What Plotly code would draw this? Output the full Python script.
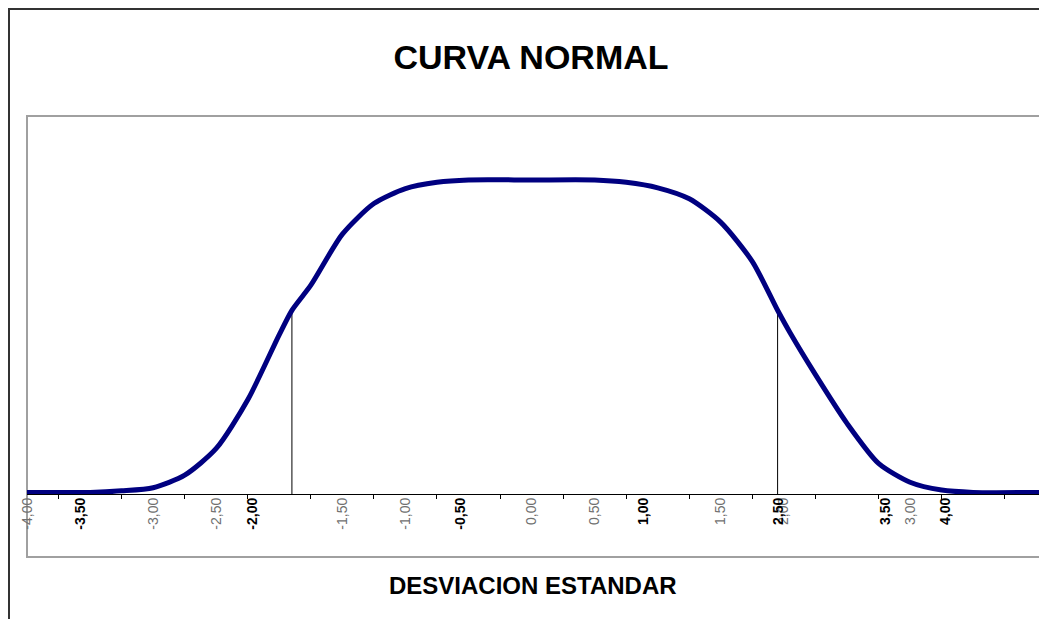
import plotly.graph_objects as go

# Curve values (x in standard deviations, y = density)
curve_x = [-4.0, -3.5, -3.25, -3.0, -2.75, -2.5, -2.25, -2.0, -1.9, -1.75, -1.5, -1.25,
           -1.0, -0.75, -0.5, 0.0, 0.5, 0.75, 1.0, 1.25, 1.5, 1.75, 1.95, 2.05, 2.25,
           2.5, 2.75, 3.0, 3.25, 3.5, 4.03]
curve_y = [0.002, 0.002, 0.004, 0.008, 0.024, 0.058, 0.120, 0.203, 0.234, 0.266, 0.331, 0.370,
           0.389, 0.397, 0.400, 0.400, 0.400, 0.397, 0.390, 0.376, 0.346, 0.296, 0.234, 0.205, 0.152,
           0.090, 0.039, 0.015, 0.005, 0.002, 0.002]

# Vertical reference lines
ref_x = [-1.90, 1.95]
ref_y = [0.234, 0.234]

# Axis ticks (between categories) and labels
tick_marks = [-3.75, -3.25, -2.75, -2.25, -1.75, -1.25, -0.75, -0.25,
              0.25, 0.75, 1.25, 1.75, 2.25, 2.75, 3.25, 3.75]
gray_vals = [-4.0, -3.0, -2.5, -1.5, -1.0, 0.0, 0.5, 1.5, 2.0, 3.0]
gray_text = ["-4,00", "-3,00", "-2,50", "-1,50", "-1,00", "0,00", "0,50", "1,50", "2,00", "3,00"]
bold_vals = [-3.58, -2.216, -0.566, 0.885, 1.956, 2.804, 3.28]
bold_text = ["-3,50", "-2,00", "-0,50", "1,00", "2,50", "3,50", "4,00"]

X_RANGE = [-4.0, 4.03]
Y_RANGE = [0, 0.4815]

fig = go.Figure()

vx, vy = [], []
for a, b in zip(ref_x, ref_y):
    vx += [a, a, None]
    vy += [0, b, None]
fig.add_trace(go.Scatter(x=vx, y=vy, mode="lines", line=dict(color="black", width=1),
                         hoverinfo="skip", showlegend=False))
fig.add_trace(go.Scatter(x=curve_x, y=curve_y, mode="lines",
                         line=dict(color="#000080", width=5, shape="spline", smoothing=0.7),
                         showlegend=False))
fig.add_trace(go.Scatter(x=gray_vals, y=[None]*len(gray_vals), xaxis="x2", mode="markers",
                         marker=dict(opacity=0), showlegend=False, hoverinfo="skip"))
fig.add_trace(go.Scatter(x=bold_vals, y=[None]*len(bold_vals), xaxis="x3", mode="markers",
                         marker=dict(opacity=0), showlegend=False, hoverinfo="skip"))

OFF = 8  # page body margin
FIG_W, FIG_H = 1047 - OFF, 619 - OFF
plot_top, plot_bottom, plot_left, plot_right = 116 - OFF, 494 - OFF, 27 - OFF, 1040 - OFF
H = plot_bottom - plot_top
W = plot_right - plot_left

def py(p):  # page pixel -> paper y
    return (plot_bottom - (p - OFF)) / H

def px(p):  # page pixel -> paper x
    return ((p - OFF) - plot_left) / W

fig.update_layout(
    width=FIG_W, height=FIG_H,
    margin=dict(l=plot_left, r=FIG_W - plot_right, t=plot_top, b=FIG_H - plot_bottom),
    paper_bgcolor="white", plot_bgcolor="white",
    font=dict(family="Liberation Sans, Arial, sans-serif", color="black"),
    title=dict(text="<b>CURVA NORMAL</b>", x=(531 - OFF) / FIG_W, xanchor="center", xref="container",
               y=1 - (57 - OFF) / FIG_H, yanchor="middle", yref="container",
               font=dict(size=34, family="Liberation Sans, Arial, sans-serif", color="black")),
    xaxis=dict(range=X_RANGE, showgrid=False, zeroline=False, showline=True, linecolor="black",
               linewidth=1, ticks="outside", ticklen=4, tickcolor="black", tickwidth=1,
               tickvals=tick_marks, showticklabels=False),
    xaxis2=dict(range=X_RANGE, overlaying="x", side="bottom", anchor="y", showgrid=False,
                zeroline=False, showline=False, ticks="", tickvals=gray_vals, ticktext=gray_text,
                tickangle=-90, tickfont=dict(size=14, color="#707070")),
    xaxis3=dict(range=X_RANGE, overlaying="x", side="bottom", anchor="y", showgrid=False,
                zeroline=False, showline=False, ticks="", tickvals=bold_vals, ticktext=bold_text,
                tickangle=-90, tickfont=dict(size=14, color="black", weight="bold")),
    yaxis=dict(range=Y_RANGE, visible=False, showgrid=False, zeroline=False),
    showlegend=False,
    shapes=[
        dict(type="rect", xref="paper", yref="paper", x0=0, x1=1, y0=py(557), y1=1,
             line=dict(color="#a0a0a0", width=2), layer="below"),
        dict(type="rect", xref="paper", yref="paper", x0=px(9), x1=px(1080), y0=py(680), y1=py(9),
             line=dict(color="#333333", width=2), layer="below"),
    ],
    annotations=[
        dict(text="<b>DESVIACION ESTANDAR</b>", xref="paper", yref="paper", x=px(533), y=py(585),
             xanchor="center", yanchor="middle", showarrow=False,
             font=dict(size=24, family="Liberation Sans, Arial, sans-serif", color="black")),
    ],
)

fig.write_html("out.html")
